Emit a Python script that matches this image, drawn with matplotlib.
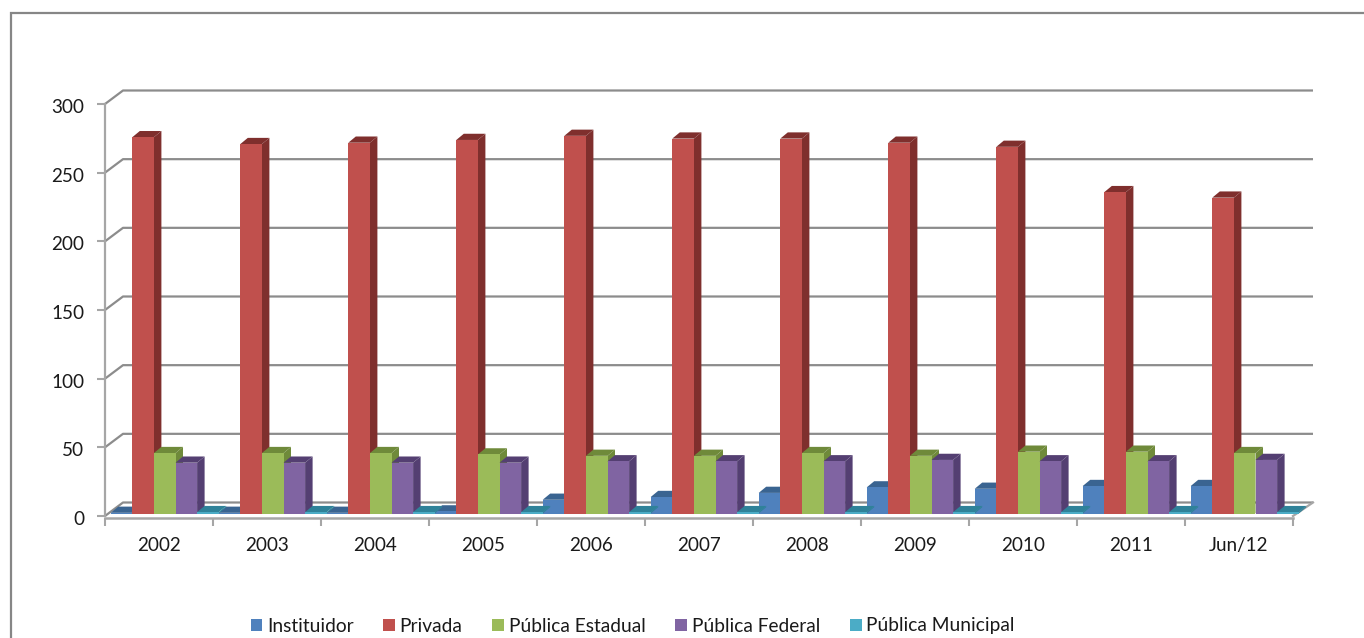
import matplotlib
matplotlib.use("Agg")
import matplotlib.pyplot as plt
from matplotlib.lines import Line2D
from matplotlib.patches import Patch, Polygon
from matplotlib.transforms import ScaledTranslation

plt.rcParams["font.family"] = ["Lato", "DejaVu Sans"]

W, H = 1364, 638

categories = ["2002", "2003", "2004", "2005", "2006", "2007", "2008", "2009", "2010", "2011", "Jun/12"]
y_ticks = [0, 50, 100, 150, 200, 250, 300]

instituidor = [0.5, 0.5, 0.5, 1.5, 10, 12, 15, 19, 18, 20, 20]
privada = [274, 269, 270, 272, 275, 273, 273, 270, 267, 234, 230]
estadual = [44, 44, 44, 43, 42, 42, 44, 42, 45, 45, 44]
federal = [37, 37, 37, 37, 38, 38, 38, 39, 38, 38, 39]
municipal = [1, 1, 1, 1, 1, 1, 1, 1, 1, 1, 1]

series = [
    ("Instituidor", instituidor, "#4f81bd", "#3a6491"),
    ("Privada", privada, "#c0504d", "#7f2f2d"),
    ("Pública Estadual", estadual, "#9bbb59", "#6f8a3a"),
    ("Pública Federal", federal, "#8064a2", "#543f72"),
    ("Pública Municipal", municipal, "#4bacc6", "#2f8299"),
]

GRID = "#8c8c8c"
AXIS = "#a6a6a6"
FRAME = "#868686"
TEXT = "#1a1a1a"

# pixel geometry of the fake 3D box, converted to data units below
X0, X1, Y0, Y1 = 105, 1293, 516, 104
px_x = (X1 - X0) / 11
px_y = (Y0 - Y1) / 300

fig = plt.figure(figsize=(W / 100, H / 100), dpi=100)
fig.patch.set_facecolor("white")

# outer chart frame: only top and left show in the crop
fig.add_artist(Line2D([11 / W, 11 / W, 1], [0, 1 - 13 / H, 1 - 13 / H], transform=fig.transFigure,
                      color=FRAME, lw=1.6, solid_joinstyle="miter"))

ax = fig.add_axes([X0 / W, 1 - Y0 / H, (X1 - X0) / W, (Y0 - Y1) / H])
ax.set_xlim(0, 11)
ax.set_ylim(0, 300)
ax.patch.set_alpha(0)
for s in ["top", "right"]:
    ax.spines[s].set_visible(False)
ax.spines["left"].set_color(AXIS)
ax.spines["left"].set_linewidth(1.6)
ax.spines["bottom"].set_color(AXIS)
ax.spines["bottom"].set_linewidth(1.8)
ax.spines["bottom"].set_position(("outward", 1.2))

wall_dx = 18 / px_x
wall_dy = 13.5 / px_y
right_dx = 20 / px_x

# back wall gridlines with their diagonal to the front axis
for v in y_ticks:
    ax.plot([0, wall_dx, 11 + right_dx], [v, v + wall_dy, v + wall_dy], color=GRID, lw=1.6,
            clip_on=False, zorder=1, solid_capstyle="butt")
ax.plot([11, 11 + right_dx], [0, wall_dy], color=AXIS, lw=1.6, clip_on=False, zorder=1)

# bars: front face, then side and top faces offset for the depth
bar_w = 21.6 / px_x
shift_x = 5.7 / px_x
shift_y = 2.5 / px_y
depth_x = 7.5 / px_x
depth_y = 6.2 / px_y

for i in range(len(categories)):
    for j, (name, vals, col, dark) in enumerate(series):
        left = i + shift_x + j * bar_w
        base = shift_y
        top = base + vals[i]
        right = left + bar_w
        ax.add_patch(Polygon([(left, top), (right, top), (right + depth_x, top + depth_y), (left + depth_x, top + depth_y)],
                             closed=True, facecolor=dark, edgecolor="none", clip_on=False, zorder=3 + j * 0.01))
        ax.add_patch(Polygon([(right, base), (right + depth_x, base + depth_y), (right + depth_x, top + depth_y), (right, top)],
                             closed=True, facecolor=dark, edgecolor="none", clip_on=False, zorder=3 + j * 0.01))
        ax.bar(left, vals[i], width=bar_w, bottom=base, align="edge", color=col, clip_on=False, zorder=3.005 + j * 0.01)

ax.set_yticks(y_ticks)
ax.set_xticks(range(12))
ax.set_xticklabels([])
ax.tick_params(axis="y", length=6, width=1.5, color=AXIS, labelsize=13.6, labelcolor=TEXT, pad=9)
ax.tick_params(axis="x", length=6, width=1.5, color=AXIS, direction="out")

# nudge the y labels down to sit on the ticks
nudge = ScaledTranslation(0, -1.5 / 72, fig.dpi_scale_trans)
for lbl in ax.get_yticklabels():
    lbl.set_transform(lbl.get_transform() + nudge)

for i, c in enumerate(categories):
    ax.text(i + 0.5, -21.3, c, ha="center", va="center", fontsize=13.6, color=TEXT, clip_on=False)

handles = [Patch(facecolor=col, edgecolor="none", label=name) for name, _, col, _ in series]
fig.legend(handles=handles, loc="center", bbox_to_anchor=(632.5 / W, 1 - 626 / H), ncol=5, frameon=False,
           fontsize=13.8, handlelength=0.62, handleheight=0.62, handletextpad=0.23, columnspacing=1.56,
           labelcolor=TEXT, borderpad=0)

fig.savefig("out.png", dpi=100, facecolor="white")
